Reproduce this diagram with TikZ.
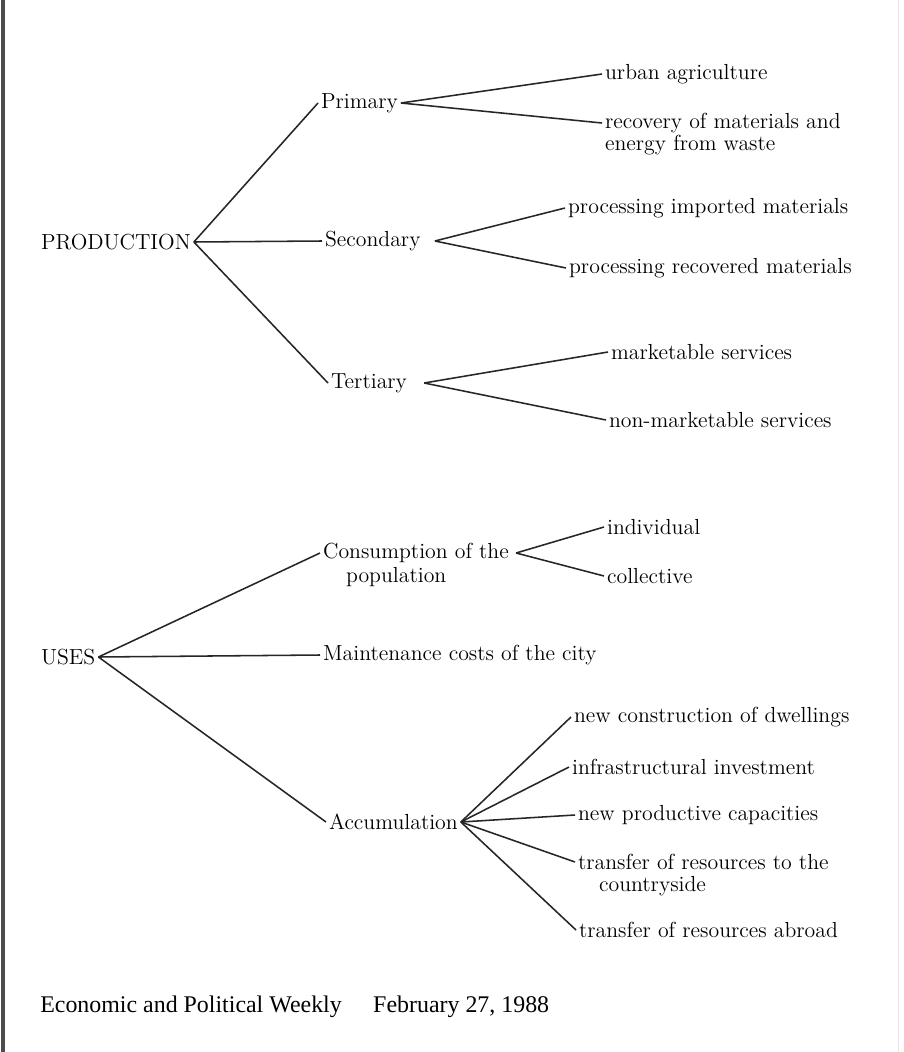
\documentclass[tikz,border=0pt]{standalone}
\usepackage{fontspec}
\usepackage{tikz}
\usetikzlibrary{calc}
\usetikzlibrary{positioning}
\newfontfamily\treefont{lmroman12-regular.otf}
\newfontfamily\footfont{Liberation Serif}
\tikzstyle{rootnode}=[black, shape=rectangle, inner sep=2pt, anchor=west, font=\treefont\fontsize{15.5}{18}\selectfont]
\tikzstyle{branchnode}=[black, shape=rectangle, inner sep=2pt, anchor=west, font=\treefont\fontsize{15.5}{18}\selectfont]
\tikzstyle{leafnode}=[black, shape=rectangle, inner sep=2pt, anchor=west, font=\treefont\fontsize{15.5}{18}\selectfont]
\tikzstyle{footnode}=[black, shape=rectangle, inner sep=0pt, anchor=west, font=\footfont\fontsize{17}{20}\selectfont]
\tikzstyle{branchline}=[line width=1.1pt, color=black!85]

\begin{document}
\begin{tikzpicture}[x=0.025cm, y=-0.025cm]
\useasboundingbox (0,0) rectangle (903,1052);
\fill[white] (0,0) rectangle (903,1052);
\draw[line width=2.2pt, color=black!70] (3,0) -- (3,1052);
\draw[line width=0.6pt, color=black!10] (898,0) -- (898,1052);

% production tree
\node [rootnode] (prod) at (38,242) {PRODUCTION};
\node [branchnode] (prim) at (318,103) {Primary};
\node [branchnode] (sec) at (322,241) {Secondary};
\node [branchnode] (tert) at (328,383) {Tertiary};
\node [leafnode] (urban) at (602,74) {urban agriculture};
\node [leafnode] (recova) at (602,123) {recovery of materials and};
\node [leafnode] (recovb) at (602,145) {energy from waste};
\node [leafnode] (procimp) at (565,208) {processing imported materials};
\node [leafnode] (procrec) at (566,268) {processing recovered materials};
\node [leafnode] (mkt) at (608,352) {marketable services};
\node [leafnode] (nonmkt) at (606,420) {non-marketable services};

\draw[branchline] (prod.east) -- (prim.west);
\draw[branchline] (prod.east) -- (sec.west);
\draw[branchline] (prod.east) -- (tert.west);
\draw[branchline] (prim.east) -- (urban.west);
\draw[branchline] (prim.east) -- (recova.west);
\draw[branchline] ([xshift=8pt]sec.east) -- (procimp.west);
\draw[branchline] ([xshift=8pt]sec.east) -- (procrec.west);
\draw[branchline] ([xshift=10pt]tert.east) -- (mkt.west);
\draw[branchline] ([xshift=10pt]tert.east) -- (nonmkt.west);

% uses tree
\node [rootnode] (uses) at (38,657) {USES};
\node [branchnode] (cons) at (320,553) {Consumption of the};
\node [branchnode] (consb) at (343,577) {population};
\node [branchnode] (maint) at (320,655) {Maintenance costs of the city};
\node [branchnode] (accum) at (326,822) {Accumulation};
\node [leafnode] (indiv) at (604,527) {individual};
\node [leafnode] (coll) at (604,576) {collective};
\node [leafnode] (newcon) at (571,717) {new construction of dwellings};
\node [leafnode] (infra) at (569,767) {infrastructural investment};
\node [leafnode] (newprod) at (575,815) {new productive capacities};
\node [leafnode] (transa) at (575,862) {transfer of resources to the};
\node [leafnode] (transb) at (596,886) {countryside};
\node [leafnode] (transab) at (576,930) {transfer of resources abroad};

\draw[branchline] (uses.east) -- (cons.west);
\draw[branchline] (uses.east) -- (maint.west);
\draw[branchline] (uses.east) -- (accum.west);
\draw[branchline] ([xshift=3pt]cons.east) -- (indiv.west);
\draw[branchline] ([xshift=3pt]cons.east) -- (coll.west);
\draw[branchline] (accum.east) -- (newcon.west);
\draw[branchline] (accum.east) -- (infra.west);
\draw[branchline] (accum.east) -- (newprod.west);
\draw[branchline] (accum.east) -- (transa.west);
\draw[branchline] (accum.east) -- (transab.west);

\node [footnode] (journal) at (40,1007) {Economic and Political Weekly};
\node [footnode, right=22pt of journal] (issue) {February 27, 1988};
\end{tikzpicture}
\end{document}
